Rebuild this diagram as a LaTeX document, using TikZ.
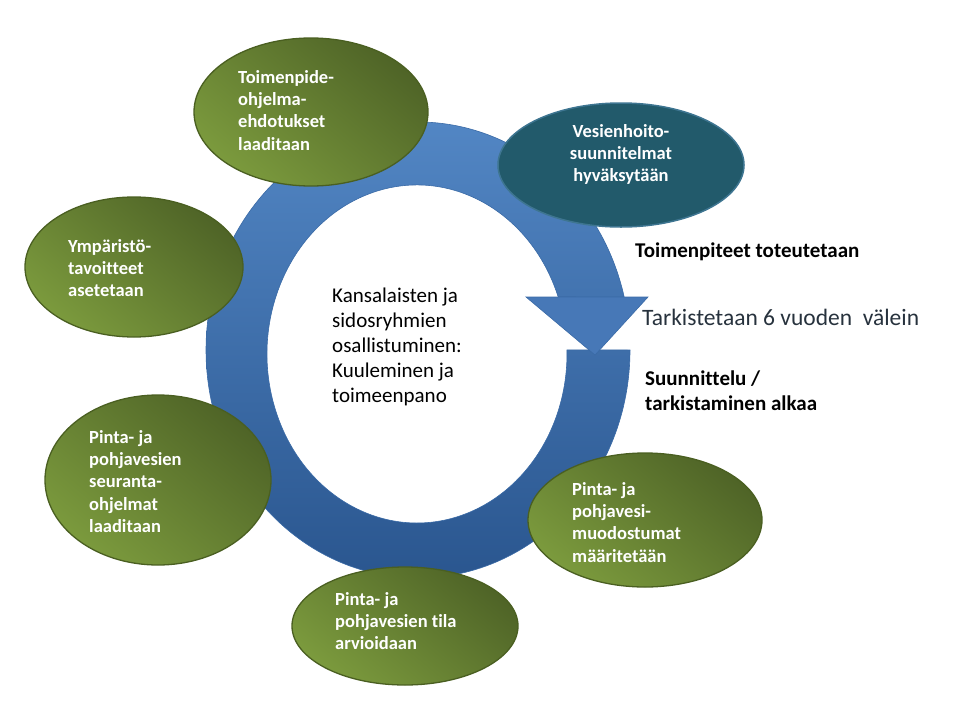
\documentclass[tikz,border=0pt]{standalone}
\usepackage{fontspec}
\setmainfont[Ligatures=NoCommon]{Carlito}
\usetikzlibrary{shapes.geometric}
\definecolor{ringtop}{HTML}{5286C4}
\definecolor{ringbot}{HTML}{2A568F}
\definecolor{ringedge}{HTML}{3A6AA6}
\definecolor{arrowfill}{HTML}{4778B7}
\definecolor{greendark}{HTML}{4F6427}
\definecolor{greenlight}{HTML}{7B9A3D}
\definecolor{greenedge}{HTML}{4A5F21}
\definecolor{tealfill}{HTML}{225A6B}
\definecolor{tealedge}{HTML}{3E7591}
\definecolor{graytext}{HTML}{27323D}
\begin{document}
\begin{tikzpicture}[x=1pt,y=1pt,
  greenell/.style={ellipse, draw=greenedge, line width=1.3pt,
    top color=greendark, bottom color=greenlight, shading angle=-40, inner sep=0pt},
  tealell/.style={ellipse, draw=tealedge, line width=1.5pt, fill=tealfill, inner sep=0pt},
  elltext/.style={text=white, font=\fontsize{18.5}{22.4}\selectfont\bfseries, inner sep=0pt},
  centertext/.style={text=black, font=\fontsize{21}{25}\selectfont, align=left, inner sep=0pt, anchor=base west},
  sidetext/.style={text=black, font=\fontsize{21}{25}\selectfont\bfseries, align=left, inner sep=0pt, anchor=base west},
]
\useasboundingbox (0,0) rectangle (960,-720);

% ring with gap
\path[draw=ringedge, line width=0.6pt, top color=ringtop, bottom color=ringbot]
  (630,-350) arc[start angle=0, end angle=-346.6, x radius=212, y radius=228]
  -- (558.2,-297) arc[start angle=19.7, end angle=361.4, x radius=150, y radius=169]
  -- cycle;
% arrow head
\coordinate (hl) at (526,-297);
\coordinate (hr) at (648,-297);
\coordinate (ht) at (595,-355);
\path[fill=arrowfill, draw=ringedge, line width=0.6pt] (hl) -- (hr) -- (ht) -- cycle;

% ellipses
\node[greenell, minimum width=234pt, minimum height=148pt] (e1) at (311,-112) {};
\node[tealell,  minimum width=246pt, minimum height=124pt] (e2) at (621,-165) {};
\node[greenell, minimum width=218pt, minimum height=140pt] (e3) at (134,-267) {};
\node[greenell, minimum width=226pt, minimum height=170pt] (e4) at (158,-480) {};
\node[greenell, minimum width=226pt, minimum height=118pt] (e5) at (405,-626) {};
\node[greenell, minimum width=234pt, minimum height=134pt] (e6) at (645,-520) {};

% ellipse texts (anchor = baseline of last line)
\node[elltext, align=left, anchor=base west] (t1) at (238,-150.2) {Toimenpide-\\ohjelma-\\ehdotukset\\laaditaan};
\node[elltext, align=center, anchor=base] (t2) at (621,-181.8) {Vesienhoito-\\suunnitelmat\\hyväksytään};
\node[elltext, align=left, anchor=base west] (t3) at (68,-296.8) {Ympäristö-\\tavoitteet\\asetetaan};
\node[elltext, align=left, anchor=base west] (t4) at (89,-532.6) {Pinta- ja\\pohjavesien\\seuranta-\\ohjelmat\\laaditaan};
\node[elltext, align=left, anchor=base west] (t5) at (335,-649.8) {Pinta- ja\\pohjavesien tila\\arvioidaan};
\node[elltext, align=left, anchor=base west] (t6) at (572,-562.2) {Pinta- ja\\pohjavesi-\\muodostumat\\määritetään};

% centre text
\node[centertext] (c) at (332,-402) {Kansalaisten ja\\sidosryhmien\\osallistuminen:\\Kuuleminen ja\\toimeenpano};

% side texts
\node[sidetext] (s1) at (635,-257) {Toimenpiteet toteutetaan};
\node[inner sep=0pt, anchor=base west, text=graytext, font=\fontsize{23.5}{28}\selectfont] (s2) at (642,-325) {Tarkistetaan 6 vuoden\ \ välein};
\node[sidetext] (s3) at (645,-410) {Suunnittelu /\\tarkistaminen alkaa};
\end{tikzpicture}
\end{document}
